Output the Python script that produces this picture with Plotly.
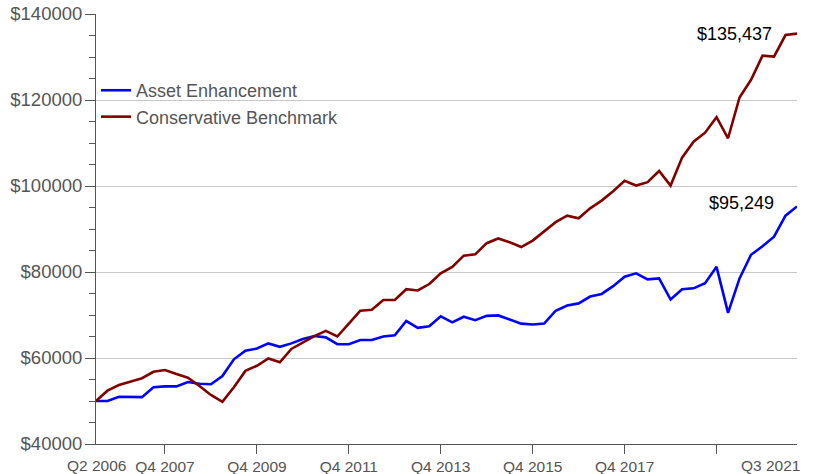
import plotly.graph_objects as go

# ---- data ----
quarters = [f"Q{q} {y}" for y in range(2006, 2022) for q in range(1, 5)][1:-1]

asset_enhancement = [
    50000, 50000, 51000, 50900, 50900, 53200, 53400, 53400, 54400, 54000,
    53900, 55800, 59700, 61700, 62200, 63400, 62600, 63400, 64400, 65100,
    64800, 63200, 63200, 64200, 64200, 65000, 65300, 68600, 67000, 67400,
    69700, 68300, 69600, 68800, 69800, 69900, 69000, 68000, 67800, 68000,
    71000, 72200, 72700, 74300, 74900, 76700, 78900, 79700, 78300, 78500,
    73600, 76000, 76200, 77400, 81200, 70500, 78500, 84000, 86000, 88200,
    93100, 95249,
]

conservative_benchmark = [
    50000, 52400, 53700, 54500, 55300, 56800, 57200, 56300, 55400, 53500,
    51400, 49800, 53200, 57000, 58200, 59900, 59000, 62100, 63700, 65100,
    66300, 65000, 68000, 71000, 71200, 73500, 73500, 76000, 75700, 77200,
    79700, 81200, 83800, 84100, 86700, 87800, 86900, 85800, 87300, 89500,
    91600, 93100, 92500, 94800, 96600, 98800, 101200, 100100, 100900, 103500,
    100100, 106600, 110300, 112400, 116000, 111100, 120600, 124700, 130300, 130100,
    135100, 135437,
]

tick_quarters = ["Q4 2007", "Q4 2009", "Q4 2011", "Q4 2013", "Q4 2015", "Q4 2017", "Q4 2019"]
tick_labels = ["Q4 2007", "Q4 2009", "Q4 2011", "Q4 2013", "Q4 2015", "Q4 2017", ""]
edge_labels = ["Q2 2006", "Q3 2021"]
end_labels = ["$135,437", "$95,249"]

FONT = "Liberation Sans, Arial, sans-serif"
AXIS_COLOR = "#555555"

fig = go.Figure()
fig.add_trace(go.Scatter(x=quarters, y=asset_enhancement, mode="lines",
                         name="Asset Enhancement",
                         line=dict(color="#0000ff", width=2.6)))
fig.add_trace(go.Scatter(x=quarters, y=conservative_benchmark, mode="lines",
                         name="Conservative Benchmark",
                         line=dict(color="#800000", width=2.6)))

annotations = [
    dict(x=quarters[-1], y=conservative_benchmark[-1], xref="x", yref="y",
         text=end_labels[0], showarrow=False, xanchor="right", yanchor="middle",
         xshift=-23, yshift=0, font=dict(size=18, color="#000000", family=FONT)),
    dict(x=quarters[-1], y=asset_enhancement[-1], xref="x", yref="y",
         text=end_labels[1], showarrow=False, xanchor="right", yanchor="middle",
         xshift=-21, yshift=3, font=dict(size=18, color="#000000", family=FONT)),
    dict(x=quarters[0], y=0, xref="x", yref="paper", text=edge_labels[0],
         showarrow=False, xanchor="center", yanchor="top", yshift=-11,
         font=dict(size=15.5, color=AXIS_COLOR, family=FONT)),
    dict(x=quarters[-1], y=0, xref="x", yref="paper", text=edge_labels[1],
         showarrow=False, xanchor="right", yanchor="top", yshift=-11, xshift=5,
         font=dict(size=15.5, color=AXIS_COLOR, family=FONT)),
]

fig.update_layout(
    width=816, height=474,
    margin=dict(l=96, r=19, t=14, b=30, autoexpand=False),
    plot_bgcolor="white", paper_bgcolor="white",
    font=dict(family=FONT, color=AXIS_COLOR),
    showlegend=True,
    legend=dict(x=0.0, y=0.865, xanchor="left", yanchor="top",
                bgcolor="rgba(0,0,0,0)", font=dict(size=18, color=AXIS_COLOR, family=FONT),
                itemwidth=30, tracegroupgap=0),
    annotations=annotations,
    xaxis=dict(
        type="category", range=[0, len(quarters) - 1], automargin=False,
        tickmode="array", tickvals=tick_quarters, ticktext=tick_labels,
        ticks="outside", ticklen=9, tickcolor=AXIS_COLOR, tickwidth=1,
        ticklabelstandoff=-1,
        showline=True, linecolor=AXIS_COLOR, linewidth=1,
        showgrid=False, zeroline=False,
        tickfont=dict(size=15.5, color=AXIS_COLOR, family=FONT),
    ),
    yaxis=dict(
        range=[40000, 140000], dtick=20000, tick0=40000, automargin=False,
        tickprefix="$", tickformat="d", ticklabelstandoff=-1,
        ticks="outside", ticklen=10, tickcolor=AXIS_COLOR, tickwidth=1,
        showline=True, linecolor=AXIS_COLOR, linewidth=1,
        showgrid=True, gridcolor="#c8c8c8", gridwidth=1, zeroline=False,
        tickfont=dict(size=18.5, color=AXIS_COLOR, family=FONT),
        minor=dict(dtick=5000, ticks="outside", ticklen=6, tickcolor=AXIS_COLOR,
                   showgrid=False),
    ),
)

fig.write_html(
    "out.html",
    config={"displayModeBar": False},
    post_script="document.body.style.margin='0px';document.body.style.overflow='hidden';",
)
